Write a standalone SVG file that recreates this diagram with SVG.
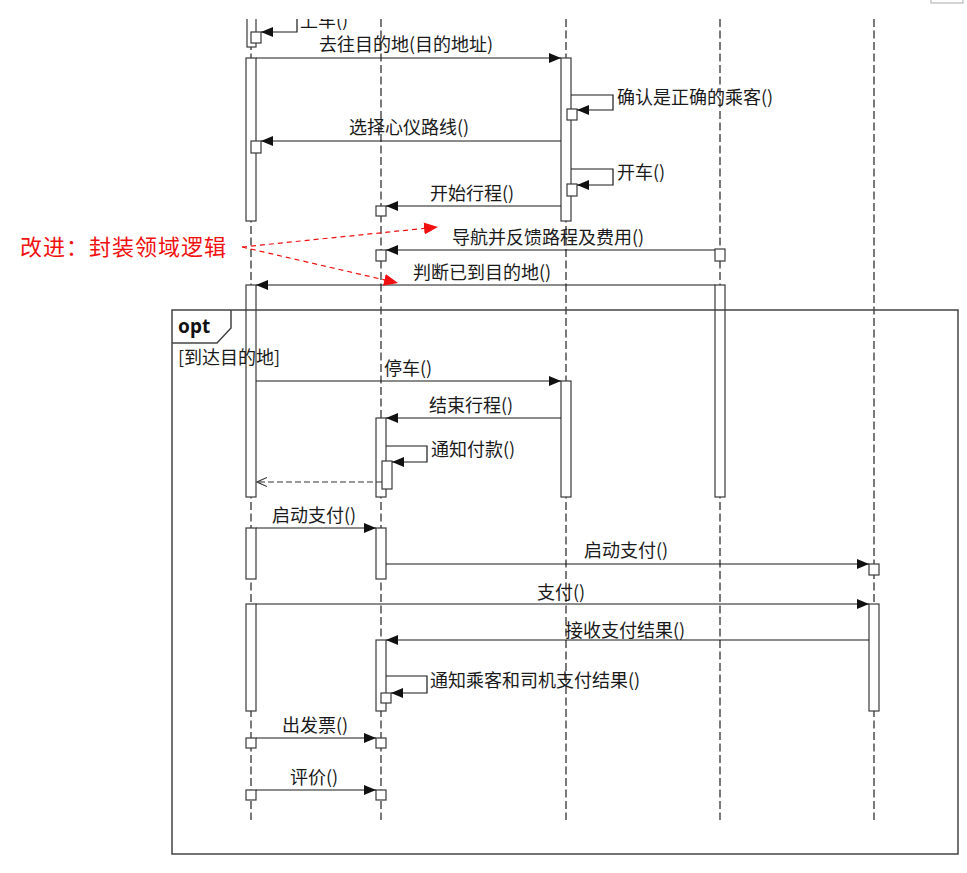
<svg xmlns="http://www.w3.org/2000/svg" width="967" height="873" viewBox="0 0 967 873">
<style>
.bg{fill:#ffffff}
.life{stroke:#333;stroke-width:1.3;stroke-dasharray:8 3.5;fill:none}
.act{fill:#ffffff;stroke:#3a3a3a;stroke-width:1.2}
.msg{stroke:#1a1a1a;stroke-width:1.2;fill:none;marker-end:url(#fh)}
.ret{stroke:#333;stroke-width:1.2;fill:none;stroke-dasharray:6 3;marker-end:url(#oh)}
.red{stroke:#f01010;stroke-width:1.2;fill:none;stroke-dasharray:5 4;marker-end:url(#rh)}
.lbl{font-family:"Noto Sans CJK SC","Noto Sans",sans-serif;font-size:18px;fill:#1a1a1a}
.frame{fill:none;stroke:#444;stroke-width:1.5}
</style>
<defs>
<marker id="fh" markerUnits="userSpaceOnUse" markerWidth="13" markerHeight="10" refX="12" refY="5" orient="auto"><path d="M0,0 L12,5 L0,10 z" fill="#111"/></marker>
<marker id="oh" markerUnits="userSpaceOnUse" markerWidth="11" markerHeight="10" refX="10" refY="5" orient="auto"><path d="M0,0.5 L10,5 L0,9.5" fill="none" stroke="#333" stroke-width="1.1"/></marker>
<marker id="rh" markerUnits="userSpaceOnUse" markerWidth="15" markerHeight="12" refX="14" refY="6" orient="auto"><path d="M0,0 L14,6 L0,12 z" fill="#f01010"/></marker>
<clipPath id="clip"><rect x="0" y="19" width="967" height="854"/></clipPath>
</defs>
<rect class="bg" x="0" y="0" width="967" height="873"/>
<rect x="931" y="-5" width="32" height="8" fill="none" stroke="#aaa" stroke-width="1"/>
<g clip-path="url(#clip)">
<g id="lifelines">
<line class="life" x1="251" y1="19" x2="251" y2="820"/>
<line class="life" x1="381" y1="19" x2="381" y2="820"/>
<line class="life" x1="566" y1="19" x2="566" y2="820"/>
<line class="life" x1="720" y1="19" x2="720" y2="820"/>
<line class="life" x1="874" y1="19" x2="874" y2="820"/>
</g>
<g id="passenger">
<rect class="act" x="247" y="10" width="9" height="37"/>
<rect class="act" x="246" y="58" width="10" height="163"/>
<rect class="act" x="246" y="285" width="10" height="212"/>
<rect class="act" x="246" y="528" width="10" height="51"/>
<rect class="act" x="246" y="604" width="10" height="107"/>
<rect class="act" x="251" y="32" width="10" height="11"/>
<rect class="act" x="251" y="141" width="10" height="12"/>
<rect class="act" x="246" y="738" width="10" height="10"/>
<rect class="act" x="246" y="790" width="10" height="10"/>
</g>
<g id="system">
<rect class="act" x="376" y="206" width="10" height="10"/>
<rect class="act" x="376" y="250" width="10" height="11"/>
<rect class="act" x="376" y="418" width="10" height="79"/>
<rect class="act" x="382" y="461" width="10" height="28"/>
<rect class="act" x="376" y="528" width="10" height="51"/>
<rect class="act" x="376" y="640" width="10" height="71"/>
<rect class="act" x="381" y="693" width="10" height="10"/>
<rect class="act" x="376" y="738" width="10" height="10"/>
<rect class="act" x="376" y="790" width="10" height="10"/>
</g>
<g id="driver">
<rect class="act" x="561" y="58" width="10" height="163"/>
<rect class="act" x="567" y="109" width="10" height="11"/>
<rect class="act" x="567" y="184" width="10" height="12"/>
<rect class="act" x="561" y="381" width="10" height="116"/>
</g>
<g id="navigation">
<rect class="act" x="715" y="249" width="10" height="12"/>
<rect class="act" x="715" y="285" width="10" height="212"/>
</g>
<g id="payment">
<rect class="act" x="869" y="564" width="10" height="11"/>
<rect class="act" x="869" y="604" width="10" height="107"/>
</g>
<g id="opt-frame">
<rect class="frame" x="172" y="310" width="786" height="544"/>
<path class="frame" d="M172 343 H217 L231 328 V310"/>
<text x="178" y="333" font-family="'Noto Sans','Liberation Sans',sans-serif" font-size="19" font-weight="bold" fill="#111">opt</text>
<text class="lbl" x="178" y="364">[到达目的地]</text>
</g>
<g id="connectors">
<path class="msg" d="M297 10 V32 H261"/>
<path class="msg" d="M256 58 H561"/>
<path class="msg" d="M571 95 H613 V110 H577"/>
<path class="msg" d="M561 141 H261"/>
<path class="msg" d="M571 169 H613 V185 H577"/>
<path class="msg" d="M561 206 H386"/>
<path class="msg" d="M715 250 H386"/>
<path class="msg" d="M715 285 H256"/>
<path class="msg" d="M256 381 H561"/>
<path class="msg" d="M561 418 H386"/>
<path class="msg" d="M386 446 H427 V462 H392"/>
<path class="ret" d="M382 482 H257"/>
<path class="msg" d="M256 528 H376"/>
<path class="msg" d="M386 564 H869"/>
<path class="msg" d="M256 604 H869"/>
<path class="msg" d="M869 640 H386"/>
<path class="msg" d="M386 676 H427 V693 H391"/>
<path class="msg" d="M256 738 H376"/>
<path class="msg" d="M256 790 H376"/>
<path class="red" d="M242 247 L438 227"/>
<path class="red" d="M242 247 L398 283"/>
</g>
<g id="labels">
<text class="lbl" x="300" y="27">上车()</text>
<text class="lbl" x="319" y="51">去往目的地(目的地址)</text>
<text class="lbl" x="617" y="104">确认是正确的乘客()</text>
<text class="lbl" x="349" y="134">选择心仪路线()</text>
<text class="lbl" x="617" y="179">开车()</text>
<text class="lbl" x="430" y="200">开始行程()</text>
<text class="lbl" x="452" y="244">导航并反馈路程及费用()</text>
<text class="lbl" x="413" y="279">判断已到目的地()</text>
<text class="lbl" x="384" y="375">停车()</text>
<text class="lbl" x="429" y="412">结束行程()</text>
<text class="lbl" x="431" y="456">通知付款()</text>
<text class="lbl" x="272" y="522">启动支付()</text>
<text class="lbl" x="584" y="557">启动支付()</text>
<text class="lbl" x="537" y="599">支付()</text>
<text class="lbl" x="565" y="637">接收支付结果()</text>
<text class="lbl" x="430" y="687">通知乘客和司机支付结果()</text>
<text class="lbl" x="282" y="732">出发票()</text>
<text class="lbl" x="290" y="784">评价()</text>
</g>
<g id="note">
<text x="20" y="255" font-family="'Noto Sans CJK SC',sans-serif" font-size="22" letter-spacing="1" fill="#f01010">改进：封装领域逻辑</text>
</g>
</g>
</svg>
